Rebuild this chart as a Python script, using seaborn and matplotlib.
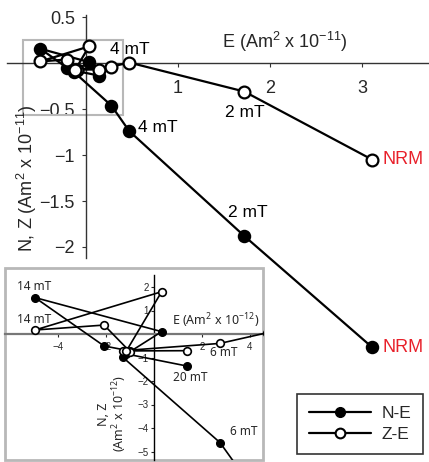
import matplotlib
matplotlib.use("Agg")
import matplotlib.pyplot as plt
import seaborn as sns
import numpy as np
from matplotlib.lines import Line2D
from matplotlib.patches import Rectangle

# ---- data (Am^2 x 1e-11) ----
steps = ['NRM', '2 mT', '4 mT', '6 mT', '8 mT', '10 mT', '12 mT', '14 mT', '16 mT', '18 mT', '20 mT']
E = [3.11, 1.72, 0.47, 0.275, -0.13, -0.10, -0.208, -0.496, 0.032, -0.115, 0.136]
N = [-3.09, -1.88, -0.74, -0.462, -0.099, -0.072, -0.051, 0.155, 0.010, -0.085, -0.136]
Z = [-1.05, -0.31, 0.005, -0.04, -0.071, -0.075, 0.038, 0.017, 0.18, -0.072, -0.071]

inset_scale = 10  # inset in Am^2 x 1e-12
main_xticks = [1, 2, 3]
main_yticks = [0.5, -0.5, -1, -1.5, -2]
inset_xticks = [-4, -2, 2, 4]
inset_yticks = [2, 1, -1, -2, -3, -4, -5]

sns.set_style("white")
plt.rcParams['font.family'] = ['Liberation Sans', 'DejaVu Sans']
plt.rcParams['mathtext.default'] = 'regular'
plt.rcParams['axes.unicode_minus'] = True

W, H = 429, 462
fig = plt.figure(figsize=(W / 100, H / 100), dpi=100)

# main axes covers whole figure; origin at pixel (86, 63), 92 px / unit
ox, oy, s = 86, 63, 92
ax = fig.add_axes([0, 0, 1, 1])
ax.set_xlim(-ox / s, (W - ox) / s)
ax.set_ylim((oy - H) / s, oy / s)
ax.patch.set_alpha(0)

def series(axh, x, y, face, ms, lw, mew, z):
    sns.lineplot(x=x, y=y, sort=False, estimator=None, ax=axh, color='black',
                 marker='o', markersize=ms, markerfacecolor=face,
                 markeredgecolor='black', markeredgewidth=mew, linewidth=lw,
                 legend=False, zorder=z)

series(ax, E, N, 'black', 8.5, 1.6, 1.2, 3)
series(ax, E, Z, 'white', 8.5, 1.6, 1.6, 4)

for side in ['top', 'right']:
    ax.spines[side].set_visible(False)
ax.spines['left'].set_position(('data', 0))
ax.spines['bottom'].set_position(('data', 0))
ax.spines['left'].set_bounds(-2.12, 0.52)
ax.spines['bottom'].set_bounds(-0.86, 3.73)
for sp in ['left', 'bottom']:
    ax.spines[sp].set_color('#333333')
    ax.spines[sp].set_linewidth(1.0)
ax.set_xticks(main_xticks)
ax.set_xticklabels([f'{t:g}' for t in main_xticks])
ax.set_yticks(main_yticks)
ax.set_yticklabels([f'{t:g}'.replace('-', '\u2212') for t in main_yticks])
ax.tick_params(axis='x', direction='out', length=3, pad=9, labelsize=13, bottom=True, color='#333333')
ax.tick_params(axis='y', direction='out', length=3, pad=5, labelsize=13, left=True, color='#333333')

ax.add_patch(Rectangle((-0.685, -0.565), 1.09, 0.815, fill=False,
                       edgecolor='#b8b8b8', linewidth=1.5, zorder=2))

ax.text(1.48, 0.228, r'E (Am$^2$ x 10$^{-11}$)', fontsize=13, ha='left', va='center')
ax.text(-0.64, -1.25, r'N, Z (Am$^2$ x 10$^{-11}$)', fontsize=13, rotation=90,
        ha='center', va='center')

ann = [('4 mT', 0.26, 0.152, 'black'), ('4 mT', 0.565, -0.696, 'black'),
       ('2 mT', 1.51, -0.533, 'black'), ('2 mT', 1.54, -1.63, 'black'),
       ('NRM', 3.225, -1.054, '#e8202a'), ('NRM', 3.225, -3.087, '#e8202a')]
for t, x, y, c in ann:
    ax.text(x, y, t, fontsize=13 if t == 'NRM' else 12.5, color=c, ha='left', va='center')

# legend
handles = [Line2D([], [], color='black', lw=1.6, marker='o', markersize=7,
                  markerfacecolor='black', markeredgecolor='black'),
           Line2D([], [], color='black', lw=1.6, marker='o', markersize=7,
                  markerfacecolor='white', markeredgecolor='black', markeredgewidth=1.5)]
leg = ax.legend(handles, ['N-E', 'Z-E'], loc='center', bbox_to_anchor=(360 / W, 1 - 424 / H),
                bbox_transform=fig.transFigure, fontsize=12.5, handlelength=3.6,
                frameon=True, fancybox=False, edgecolor='black', borderpad=0.7,
                labelspacing=0.3, handletextpad=0.6)
leg.get_frame().set_linewidth(1.2)

# ---- inset ----
ix0, iy0, ix1, iy1 = 5, 268, 263, 460
iox, ioy, sx, sy = 154, 334, 24.0, 23.5
ins = fig.add_axes([ix0 / W, 1 - iy1 / H, (ix1 - ix0) / W, (iy1 - iy0) / H])
ins.set_xlim((ix0 - iox) / sx, (ix1 - iox) / sx)
ins.set_ylim((ioy - iy1) / sy, (ioy - iy0) / sy)
ins.patch.set_facecolor('white')
ins.patch.set_edgecolor('#b8b8b8')
ins.patch.set_linewidth(2.0)

Ei = [v * inset_scale for v in E]
Ni = [v * inset_scale for v in N]
Zi = [v * inset_scale for v in Z]
series(ins, Ei, Ni, 'black', 5.5, 1.2, 1.0, 3)
series(ins, Ei, Zi, 'white', 5.5, 1.2, 1.2, 4)

for side in ['top', 'right']:
    ins.spines[side].set_visible(False)
ins.spines['left'].set_position(('data', 0))
ins.spines['bottom'].set_position(('data', 0))
ins.spines['left'].set_bounds((ioy - iy1) / sy, 2.5)
ins.spines['left'].set_color('black')
ins.spines['bottom'].set_color('#777777')
ins.spines['bottom'].set_linewidth(1.6)
ins.spines['left'].set_linewidth(1.0)
ins.set_xticks(inset_xticks)
ins.set_xticklabels([f'{t:g}'.replace('-', '\u2212') for t in inset_xticks])
ins.set_yticks(inset_yticks)
ins.set_yticklabels([f'{t:g}'.replace('-', '\u2212') for t in inset_yticks])
ins.tick_params(axis='x', direction='out', length=2, pad=4, labelsize=7, bottom=True)
ins.tick_params(axis='y', direction='out', length=2, pad=2, labelsize=7, left=True)

ifont = ['Noto Sans', 'DejaVu Sans']
ins.text(0.75, 0.55, r'E (Am$^2$ x 10$^{-12}$)', fontsize=9, family=ifont, ha='left', va='center')
ins.text(-1.71, -3.4, 'N, Z\n' + r'(Am$^2$ x 10$^{-12}$)', fontsize=9, family=ifont,
         rotation=90, ha='center', va='center', multialignment='center', linespacing=1.0)
iann = [('14 mT', -5.71, 2.0), ('14 mT', -5.71, 0.6), ('6 mT', 2.33, -0.79),
        ('20 mT', 0.79, -1.87), ('6 mT', 3.17, -4.13)]
for t, x, y in iann:
    ins.text(x, y, t, fontsize=8.5, family=ifont, ha='left', va='center')

fig.savefig('out.png', dpi=100)
